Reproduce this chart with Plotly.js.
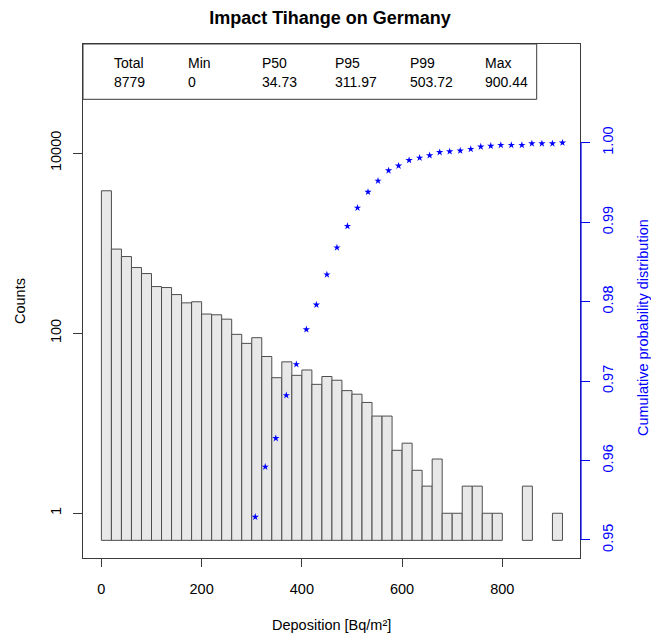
<!DOCTYPE html>
<html>
<head>
<meta charset="utf-8">
<script src="https://cdn.plot.ly/plotly-3.0.1.min.js"></script>
<style>html,body{margin:0;padding:0;background:#fff}#chart{width:651px;height:635px}</style>
</head>
<body>
<div id="chart"></div>
<script>
// ---- data ----
const binWidth = 20;
const binStarts = [0,20,40,60,80,100,120,140,160,180,200,220,240,260,280,300,320,340,360,380,400,420,440,460,480,500,520,540,560,580,600,620,640,660,680,700,720,740,760,780,800,820,840,860,880,900];
const counts = [3811,858,709,535,459,329,321,268,217,223,163,160,143,97,77,89,55,32,48,34,39,27,33,30,23,21,17,12,12,5,6,3,2,4,1,1,2,2,1,1,0,0,2,0,0,1];
const cdfX = [307,327,348,369,389,409,429,450,470,491,511,532,552,573,593,614,635,655,675,695,716,737,757,777,797,818,839,859,879,900,920];
const cdfY = [0.9529,0.9592,0.9628,0.9682,0.9721,0.9765,0.9796,0.9834,0.9868,0.9895,0.9918,0.9938,0.9952,0.9965,0.9971,0.9978,0.9981,0.9984,0.9988,0.9989,0.9990,0.9992,0.9995,0.9996,0.9997,0.9997,0.9997,0.9999,0.9999,0.9999,1.0000];
const tableHeaders = ["Total","Min","P50","P95","P99","Max"];
const tableValues = ["8779","0","34.73","311.97","503.72","900.44"];
const xTicks = [0,200,400,600,800];
const yTicks = [1,100,10000];
const y2Ticks = [0.95,0.96,0.97,0.98,0.99,1.00];

// ---- layout helpers (pixel -> paper) ----
const W = 651, H = 635, mL = 83, mR = 71, mT = 44, mB = 77;
const pw = W - mL - mR, ph = H - mT - mB;
const px = v => (v - mL) / pw;
const py = v => (H - mB - v) / ph;
const barBase = 0.5;
const font = "Liberation Sans, Arial, sans-serif";
const blue = "#0000ff";
const frame = "#3a3a3a";

const bars = {
  type: "bar",
  x: binStarts.map(s => s + binWidth / 2),
  y: counts.map(c => c > 0 ? c - barBase : null),
  base: barBase,
  width: binWidth,
  marker: {color: "#e8e8e8", line: {color: "#4d4d4d", width: 1}},
  hoverinfo: "skip",
  showlegend: false
};
const cdf = {
  type: "scatter", mode: "markers",
  x: cdfX, y: cdfY, yaxis: "y2",
  marker: {symbol: "star", size: 5.5, color: blue, line: {width: 0}},
  showlegend: false, cliponaxis: true
};

const colX = [112, 186, 260, 333, 408, 483];
const annotations = [];
tableHeaders.forEach((h, i) => {
  annotations.push({xref: "paper", yref: "paper", x: px(colX[i]), y: py(63.5), text: h, showarrow: false, xanchor: "left", yanchor: "middle", font: {family: font, size: 14, color: "#000"}});
  annotations.push({xref: "paper", yref: "paper", x: px(colX[i]), y: py(82), text: tableValues[i], showarrow: false, xanchor: "left", yanchor: "middle", font: {family: font, size: 14, color: "#000"}});
});
annotations.push({xref: "paper", yref: "paper", x: px(20), y: 0.5, text: "Counts", textangle: -90, showarrow: false, xanchor: "center", yanchor: "middle", font: {family: font, size: 14.5, color: "#000"}});
annotations.push({xref: "paper", yref: "paper", x: px(643), y: py(328), text: "Cumulative probability distribution", textangle: -90, showarrow: false, xanchor: "center", yanchor: "middle", font: {family: font, size: 14.5, color: blue}});
annotations.push({xref: "paper", yref: "paper", x: px(331.5), y: py(625), text: "Deposition [Bq/m²]", showarrow: false, xanchor: "center", yanchor: "middle", font: {family: font, size: 14.5, color: "#000"}});

const layout = {
  width: W, height: H,
  margin: {l: mL, r: mR, t: mT, b: mB, pad: 0},
  paper_bgcolor: "#fff", plot_bgcolor: "#fff",
  title: {text: "<b>Impact Tihange on Germany</b>", x: px(330), xref: "paper", xanchor: "center", y: 1 - 18 / H, yanchor: "middle", yref: "container", font: {family: font, size: 18, color: "#000"}},
  bargap: 0,
  xaxis: {range: [-36.7, 955], tickvals: xTicks, ticktext: xTicks.map(String), ticks: "outside", ticklen: 8, tickcolor: frame, showline: true, mirror: true, linecolor: frame, linewidth: 1, showgrid: false, zeroline: false, tickfont: {family: font, size: 14.5, color: "#000"}, ticklabelstandoff: 10},
  yaxis: {type: "log", range: [-0.497, 5.211], tickvals: yTicks, ticktext: yTicks.map(String), tickangle: -90, ticks: "outside", ticklen: 9, tickcolor: frame, showline: true, mirror: true, linecolor: frame, linewidth: 1, showgrid: false, zeroline: false, tickfont: {family: font, size: 14.5, color: "#000"}, ticklabelstandoff: 6},
  yaxis2: {overlaying: "y", side: "right", range: [0.94773, 1.01243], tickvals: y2Ticks, ticktext: y2Ticks.map(v => v.toFixed(2)), tickangle: -90, ticks: "outside", ticklen: 9, tickcolor: blue, showline: false, showgrid: false, zeroline: false, tickfont: {family: font, size: 14.5, color: blue}, ticklabelstandoff: 6},
  shapes: [
    {type: "rect", xref: "paper", yref: "paper", x0: 0, x1: px(536.7), y0: py(99.3), y1: 1, line: {color: frame, width: 1}, fillcolor: "#fff", layer: "above"},
    {type: "line", xref: "paper", yref: "y2", x0: 1.002, x1: 1.002, y0: 0.95, y1: 1.0, line: {color: blue, width: 1.2}}
  ],
  annotations: annotations,
  showlegend: false
};

Plotly.newPlot("chart", [bars, cdf], layout, {displayModeBar: false, staticPlot: true});
</script>
</body>
</html>
